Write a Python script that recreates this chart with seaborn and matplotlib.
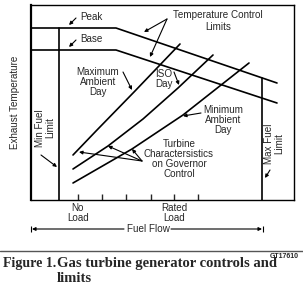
import matplotlib
matplotlib.use("Agg")
import matplotlib.pyplot as plt
import seaborn as sns
import pandas as pd

sns.set_style("white")
plt.rcParams['font.family'] = ['Liberation Sans', 'DejaVu Sans']

# ---- data (fuel flow on x, exhaust temperature on y; arbitrary units) ----
peak_x = [0, 85, 246]
peak_y = [172, 172, 117]
base_x = [0, 85, 246]
base_y = [150, 150, 97]

max_amb_x = [42, 66, 104, 149]
max_amb_y = [45, 70, 109, 156]
iso_x = [42, 77, 112, 147, 182]
iso_y = [31, 54, 81, 112, 145]
min_amb_x = [42, 101, 152, 218]
min_amb_y = [17, 51, 85, 137]

min_fuel_x = 28
min_fuel_top = 172
max_fuel_x = 231
max_fuel_top = 122

tick_pos = [47, 71, 95, 120, 143, 167]
tick_labels = ["No\nLoad", "", "", "", "Rated\nLoad", ""]

W, H = 303, 297
fig = plt.figure(figsize=(W / 100, H / 100), dpi=100)
ax = fig.add_axes([31 / W, 1 - 200 / H, (294 - 31) / W, 195 / H])
ax.set_xlim(0, 263)
ax.set_ylim(0, 195)

lw = 1.2
frames = []
for name, xs, ys in [("peak", peak_x, peak_y), ("base", base_x, base_y),
                     ("max", max_amb_x, max_amb_y), ("iso", iso_x, iso_y),
                     ("min", min_amb_x, min_amb_y),
                     ("minfuel", [min_fuel_x, min_fuel_x], [0, min_fuel_top]),
                     ("maxfuel", [max_fuel_x, max_fuel_x], [0, max_fuel_top])]:
    frames.append(pd.DataFrame({"fuel": xs, "temp": ys, "series": name}))
df = pd.concat(frames, ignore_index=True)
sns.lineplot(data=df, x="fuel", y="temp", units="series", estimator=None,
             sort=False, color="black", lw=lw, ax=ax, legend=False)

for s in ax.spines.values():
    s.set_color("black")
    s.set_linewidth(1.0)
ax.spines['left'].set_linewidth(1.6)

ax.set_xticks(tick_pos)
ax.set_xticklabels(tick_labels, fontsize=7.1, linespacing=1.0)
ax.tick_params(axis='x', direction='in', length=4.5, width=1.0, pad=2.5, bottom=True)
ax.set_yticks([])
ax.set_xlabel("")
ax.set_ylabel("")

fs = 7.1
ap = dict(arrowstyle='-|>', lw=0.8, color='black', mutation_scale=5, shrinkA=0, shrinkB=0)

ax.annotate("", xy=(38, 175), xytext=(45, 182), arrowprops=ap)
ax.text(49, 183, "Peak", fontsize=fs, ha='left', va='center')
ax.annotate("", xy=(38, 153), xytext=(45, 160), arrowprops=ap)
ax.text(49, 161, "Base", fontsize=fs, ha='left', va='center')

ax.text(187, 178.5, "Temperature Control\nLimits", fontsize=fs, ha='center',
        va='center', multialignment='center', linespacing=1.25)
ax.annotate("", xy=(113, 168), xytext=(136, 181), arrowprops=ap)
ax.annotate("", xy=(119, 143), xytext=(136, 181), arrowprops=ap)

ax.text(67, 118, "Maximum\nAmbient\nDay", fontsize=fs, ha='center', va='center',
        multialignment='center', linespacing=1.0)
ax.annotate("", xy=(101, 110), xytext=(92, 128), arrowprops=ap)

ax.text(133, 121, "ISO\nDay", fontsize=fs, ha='center', va='center',
        multialignment='center', linespacing=1.0)
ax.annotate("", xy=(148, 115), xytext=(143, 128), arrowprops=ap)

ax.text(192, 80, "Minimum\nAmbient\nDay", fontsize=fs, ha='center', va='center',
        multialignment='center', linespacing=1.0)
ax.annotate("", xy=(152, 84), xytext=(170, 87), arrowprops=ap)

ax.text(148, 41, "Turbine\nCharactersistics\non Governor\nControl", fontsize=fs,
        ha='center', va='center', multialignment='center', linespacing=1.0)
for tgt in [(48, 48), (77, 54), (101, 51)]:
    ax.annotate("", xy=tgt, xytext=(111, 39), arrowprops=ap)

ax.text(14, 72, "Min Fuel\nLimit", fontsize=fs, ha='center', va='center',
        rotation=90, multialignment='center', linespacing=1.0)
ax.annotate("", xy=(26, 33), xytext=(10, 45), arrowprops=ap)

ax.text(243, 56, "Max Fuel\nLimit", fontsize=fs, ha='center', va='center',
        rotation=90, multialignment='center', linespacing=1.0)
ax.annotate("", xy=(234, 22), xytext=(239, 30), arrowprops=ap)

fig.text(15 / W, 1 - 102 / H, "Exhaust Temperature", fontsize=fs, rotation=90,
         ha='center', va='center')

# Fuel flow arrow below the axis
yff = -29
ax.annotate("", xy=(1, yff), xytext=(93, yff), arrowprops=ap, annotation_clip=False)
ax.annotate("", xy=(231, yff), xytext=(140, yff), arrowprops=ap, annotation_clip=False)
ax.plot([0, 232], [yff, yff], ls='none', marker='|', color='black', ms=4, mew=0.8,
        clip_on=False)
ax.text(117, yff, "Fuel Flow", fontsize=fs, ha='center', va='center')

# caption
fig.add_artist(plt.Line2D([0, 1], [1 - 251 / H, 1 - 251 / H], color='#555555', lw=1.0))
fig.text(299 / W, 1 - 256 / H, "GT17610", fontsize=5, fontweight='bold',
         ha='right', va='center')
fig.text(3 / W, 1 - 264 / H, "Figure 1.", fontsize=10, fontweight='bold',
         family='Liberation Serif', ha='left', va='center')
fig.text(57 / W, 1 - 264 / H, "Gas turbine generator controls and", fontsize=10.5,
         fontweight='bold', family='Liberation Serif', ha='left', va='center')
fig.text(57 / W, 1 - 278 / H, "limits", fontsize=10.5,
         fontweight='bold', family='Liberation Serif', ha='left', va='center')

fig.savefig("out.png", dpi=100)
